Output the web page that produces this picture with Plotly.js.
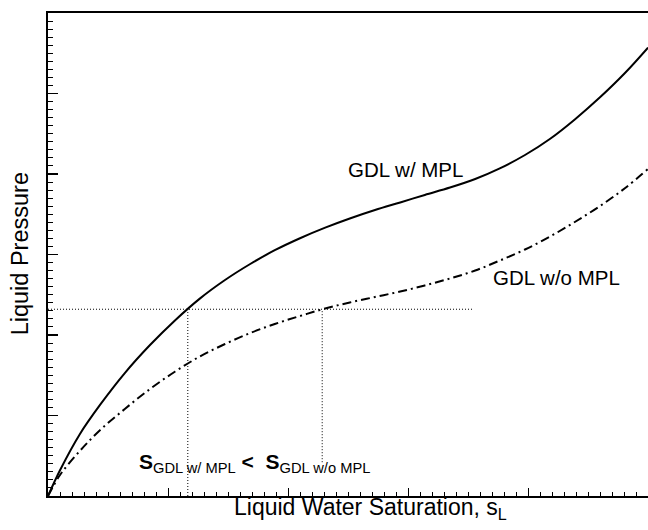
<!DOCTYPE html>
<html>
<head>
<meta charset="utf-8">
<script src="https://cdn.plot.ly/plotly-3.0.1.min.js"></script>
<style>
  html, body { margin: 0; padding: 0; background: #ffffff; }
  #chart { width: 648px; height: 530px; }
</style>
</head>
<body>
<div id="chart"></div>
<script>
// Capillary pressure curves: liquid pressure vs. liquid water saturation
const satWithMPL = [0, 0.02, 0.053, 0.087, 0.128, 0.17, 0.212, 0.253, 0.295, 0.337, 0.378, 0.42, 0.462,
  0.503, 0.545, 0.587, 0.628, 0.67, 0.712, 0.753, 0.795, 0.837, 0.878, 0.92, 0.962, 1.0];
const presWithMPL = [0, 3.2, 7.68, 11.34, 15.27, 18.75, 21.84, 24.52, 26.83, 28.82, 30.53, 32.02, 33.33,
  34.47, 35.52, 36.47, 37.4, 38.32, 39.38, 40.7, 42.36, 44.38, 46.78, 49.53, 52.58, 55.7];

const satWithoutMPL = [0, 0.02, 0.053, 0.087, 0.128, 0.17, 0.212, 0.253, 0.295, 0.337, 0.378, 0.42, 0.462,
  0.503, 0.545, 0.587, 0.628, 0.67, 0.712, 0.753, 0.795, 0.837, 0.878, 0.92, 0.962, 1.0];
const presWithoutMPL = [0, 2.61, 5.59, 8.2, 10.81, 13.29, 15.47, 17.33, 18.88, 20.25, 21.37, 22.36, 23.29,
  24.04, 24.72, 25.4, 26.15, 27.02, 28.01, 29.25, 30.62, 32.24, 34.04, 36.02, 38.26, 40.62];

// A common liquid pressure and the saturation each GDL reaches at it
const guidePressure = [23.2];
const guideSaturation = [0.233, 0.457];   // w/ MPL, w/o MPL
const guideEndX = [0.707];

const FONT = '"Liberation Sans", Arial, Helvetica, sans-serif';
const dotted = { color: '#000', width: 1, dash: '1px,2px' };

const traces = [
  {
    x: satWithMPL, y: presWithMPL, type: 'scatter', mode: 'lines',
    line: { color: '#000', width: 2, shape: 'spline', smoothing: 1 },
    name: 'GDL w/ MPL', hoverinfo: 'skip'
  },
  {
    x: satWithoutMPL, y: presWithoutMPL, type: 'scatter', mode: 'lines',
    line: { color: '#000', width: 2, shape: 'spline', smoothing: 1, dash: '9px,4px,2px,4px' },
    name: 'GDL w/o MPL', hoverinfo: 'skip'
  },
  // horizontal guide at the common pressure
  { x: [0, guideEndX[0]], y: [guidePressure[0], guidePressure[0]],
    type: 'scatter', mode: 'lines', line: dotted, hoverinfo: 'skip' },
  // vertical guides down towards the saturation axis
  { x: [guideSaturation[0], guideSaturation[0]], y: [0, guidePressure[0]],
    type: 'scatter', mode: 'lines', line: dotted, hoverinfo: 'skip' },
  { x: [guideSaturation[1], guideSaturation[1]], y: [4.2, guidePressure[0]],
    type: 'scatter', mode: 'lines', line: dotted, hoverinfo: 'skip' }
];

const layout = {
  width: 648, height: 530,
  margin: { l: 48, r: 0, t: 13, b: 34 },
  paper_bgcolor: '#fff', plot_bgcolor: '#fff',
  showlegend: false,
  font: { family: FONT, color: '#000' },
  xaxis: {
    range: [0, 1], showgrid: false, zeroline: false,
    showline: true, linecolor: '#000', linewidth: 2, mirror: true,
    ticks: 'inside', dtick: 0.2, tick0: 0, ticklen: 8, tickwidth: 1, tickcolor: '#000',
    minor: { dtick: 0.02, ticks: 'inside', ticklen: 4, tickwidth: 1, tickcolor: '#000' },
    showticklabels: false
  },
  yaxis: {
    range: [0, 60], showgrid: false, zeroline: false,
    showline: true, linecolor: '#000', linewidth: 2, mirror: false,
    ticks: 'inside', dtick: 10, tick0: 0, ticklen: 10, tickwidth: 1.5, tickcolor: '#000',
    minor: { dtick: 1, ticks: 'inside', ticklen: 5, tickwidth: 1, tickcolor: '#000' },
    showticklabels: false
  },
  annotations: [
    // axis titles
    { xref: 'paper', yref: 'paper', x: 0.538, y: 0, xanchor: 'center', yanchor: 'top', yshift: 4,
      text: 'Liquid Water Saturation, s<sub>L</sub>', showarrow: false,
      font: { size: 23, family: FONT } },
    { xref: 'paper', yref: 'paper', x: -0.047, y: 0.502, xanchor: 'center', yanchor: 'middle',
      textangle: -90, text: 'Liquid Pressure', showarrow: false,
      font: { size: 23.5, family: FONT } },
    // curve labels
    { x: 0.595, y: 40.5, xref: 'x', yref: 'y', text: 'GDL w/ MPL', showarrow: false,
      font: { size: 20.5, family: FONT } },
    { x: 0.848, y: 27.1, xref: 'x', yref: 'y', text: 'GDL w/o MPL', showarrow: false,
      font: { size: 20.5, family: FONT } },
    { x: 0.148, y: 4.1, xref: 'x', yref: 'y', xanchor: 'left', yanchor: 'middle',
      text: '<b>S</b><sub>GDL w/ MPL</sub> <b>&lt;</b>  <b>S</b><sub>GDL w/o MPL</sub>',
      showarrow: false, font: { size: 21, family: FONT } }
  ]
};

Plotly.newPlot('chart', traces, layout, { staticPlot: true, displayModeBar: false });
</script>
</body>
</html>
